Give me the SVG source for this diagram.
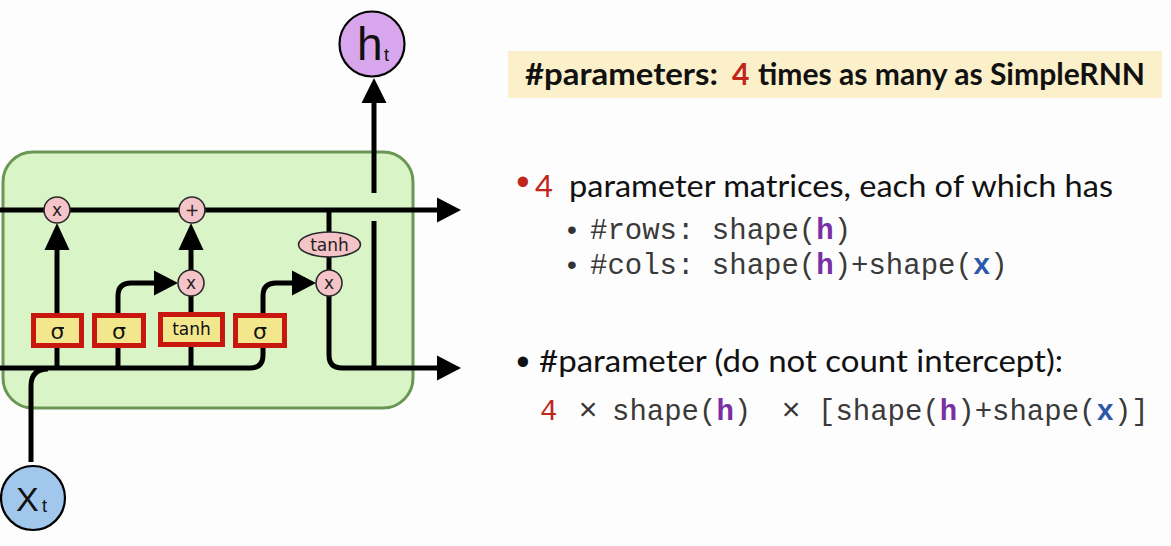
<svg xmlns="http://www.w3.org/2000/svg" width="1171" height="546" viewBox="0 0 1171 546">
<style>
.ln{fill:none;stroke:#000;stroke-width:5;stroke-linecap:butt;stroke-linejoin:round}
.hd{fill:#000;stroke:none}
.op{fill:#f5c4c8;stroke:#2a2a2a;stroke-width:1.6}
.gate{fill:#f3e78e;stroke:#c8170f;stroke-width:5}
.gt{font-family:"DejaVu Sans","Liberation Sans",sans-serif;fill:#111;text-anchor:middle}
.opt{font-family:"DejaVu Sans","Liberation Sans",sans-serif;font-size:17px;fill:#222;text-anchor:middle}
.body{font-family:Lato,"Liberation Sans",sans-serif;font-size:31px;fill:#111}
.bul{font-family:"Liberation Sans",Arial,sans-serif;text-anchor:middle;fill:#111}
.code{font-family:"Liberation Mono","DejaVu Sans Mono",monospace;font-size:29px;fill:#3a3a3a}
.ban{font-family:Lato,"Liberation Sans",sans-serif;font-size:30px;font-weight:bold;fill:#111}
.red{fill:#c0261a}
.hv{fill:#7a2fa5;font-weight:bold}
.xv{fill:#2d58a8;font-weight:bold}
</style>
<rect width="1171" height="546" fill="#fdfdfd"/>

<g id="cell">
<rect x="3" y="152" width="410" height="256" rx="30" fill="#d9f5c8" stroke="#6a9656" stroke-width="3"/>
</g>

<g id="connectors">
<!-- cell state -->
<path class="ln" d="M0,210 H438"/>
<polygon class="hd" points="437,197.5 461,210 437,222.5"/>
<!-- hidden state in -->
<path class="ln" d="M0,368 H250 Q263,368 263,355 V348"/>
<!-- x_t in -->
<path class="ln" d="M31,462 V386 Q31,369 48,369"/>
<!-- forget gate -->
<path class="ln" d="M57,368 V348"/>
<path class="ln" d="M57,313 V249"/>
<polygon class="hd" points="44.5,250 57,223 69.5,250"/>
<!-- input gate -->
<path class="ln" d="M118,368 V348"/>
<path class="ln" d="M118,313 V296 Q118,283 131,283 H156"/>
<polygon class="hd" points="154,270.5 178,283 154,295.5"/>
<!-- candidate -->
<path class="ln" d="M191,368 V347"/>
<path class="ln" d="M191,312 V296"/>
<path class="ln" d="M191,270 V249"/>
<polygon class="hd" points="178.5,250 191,223 203.5,250"/>
<!-- output gate -->
<path class="ln" d="M263,313 V296 Q263,283 276,283 H294"/>
<polygon class="hd" points="292,270.5 316,283 292,295.5"/>
<!-- tanh of cell -->
<path class="ln" d="M329,210 V232"/>
<path class="ln" d="M329,256 V270"/>
<!-- h out -->
<path class="ln" d="M329,296 V355 Q329,368 342,368 H438"/>
<polygon class="hd" points="437,355.5 461,368 437,380.5"/>
<path class="ln" d="M374,368 V221"/>
<path class="ln" d="M374,193 V101"/>
<polygon class="hd" points="361.5,103 374,78 386.5,103"/>
</g>

<g id="op-forget"><circle class="op" cx="57" cy="210" r="13"/><text class="opt" x="57" y="216">x</text></g>
<g id="op-add"><circle class="op" cx="192" cy="210" r="13"/><text class="opt" x="192" y="216">+</text></g>
<g id="op-input"><circle class="op" cx="191" cy="283" r="13"/><text class="opt" x="191" y="289">x</text></g>
<g id="op-output"><circle class="op" cx="329" cy="283" r="13"/><text class="opt" x="329" y="289">x</text></g>
<g id="op-tanh"><ellipse class="op" cx="329.5" cy="244.5" rx="31" ry="12.5"/><text class="opt" x="329.5" y="250.5">tanh</text></g>

<g id="gate-f"><rect class="gate" x="33.5" y="315.5" width="48" height="30"/><text class="gt" x="57.5" y="339" font-size="22">σ</text></g>
<g id="gate-i"><rect class="gate" x="94.5" y="315.5" width="49" height="30"/><text class="gt" x="119" y="339" font-size="22">σ</text></g>
<g id="gate-c"><rect class="gate" x="160.5" y="314.5" width="62" height="30"/><text class="gt" x="191.5" y="335" font-size="17">tanh</text></g>
<g id="gate-o"><rect class="gate" x="235.5" y="315.5" width="49" height="30"/><text class="gt" x="260" y="339" font-size="22">σ</text></g>

<g id="node-ht">
<circle cx="372" cy="44" r="32.5" fill="#d7a6ec" stroke="#000" stroke-width="2.2"/>
<text x="357" y="60" font-family="'Liberation Sans',Arial,sans-serif" font-size="46" fill="#111">h</text>
<text x="384" y="61" font-family="'Liberation Sans',Arial,sans-serif" font-size="18" fill="#111">t</text>
</g>
<g id="node-xt">
<circle cx="33" cy="498" r="32" fill="#a2c7ec" stroke="#000" stroke-width="2.2"/>
<text x="16" y="511" font-family="'Liberation Sans',Arial,sans-serif" font-size="34" fill="#111">X</text>
<text x="42" y="512" font-family="'Liberation Sans',Arial,sans-serif" font-size="18" fill="#111">t</text>
</g>

<g id="banner">
<rect x="508" y="51" width="654" height="47" fill="#fbf0c9"/>
<text class="ban" x="525" y="85" textLength="193" lengthAdjust="spacingAndGlyphs">#parameters:</text>
<text class="ban" x="732" y="85" style="fill:#c0261a">4</text>
<text class="ban" x="758" y="85" textLength="387" lengthAdjust="spacingAndGlyphs">times as many as SimpleRNN</text>
</g>

<g id="text-bullets">
<text class="bul" x="523" y="195" font-size="38" style="fill:#c0261a">•</text>
<text class="body" x="535" y="197" font-size="33" style="fill:#c0261a">4</text>
<text class="body" x="569" y="197" textLength="544" lengthAdjust="spacingAndGlyphs">parameter matrices, each of which has</text>

<text class="bul" x="572" y="239" font-size="28" style="fill:#333">•</text>
<text class="code" x="590" y="239">#rows: shape(<tspan class="hv">h</tspan>)</text>
<text class="bul" x="572" y="274" font-size="28" style="fill:#333">•</text>
<text class="code" x="590" y="274">#cols: shape(<tspan class="hv">h</tspan>)+shape(<tspan class="xv">x</tspan>)</text>

<text class="bul" x="523" y="375" font-size="38">•</text>
<text class="body" x="539" y="372" textLength="524" lengthAdjust="spacingAndGlyphs">#parameter (do not count intercept):</text>

<text class="code" x="540" y="420" style="fill:#c0261a">4</text>
<text x="588" y="420" font-family="'Liberation Sans',Arial,sans-serif" font-size="32" fill="#333" text-anchor="middle">×</text>
<text class="code" x="612" y="420">shape(<tspan class="hv">h</tspan>)</text>
<text x="791" y="420" font-family="'Liberation Sans',Arial,sans-serif" font-size="32" fill="#333" text-anchor="middle">×</text>
<text class="code" x="818" y="420">[shape(<tspan class="hv">h</tspan>)+shape(<tspan class="xv">x</tspan>)]</text>
</g>
</svg>
